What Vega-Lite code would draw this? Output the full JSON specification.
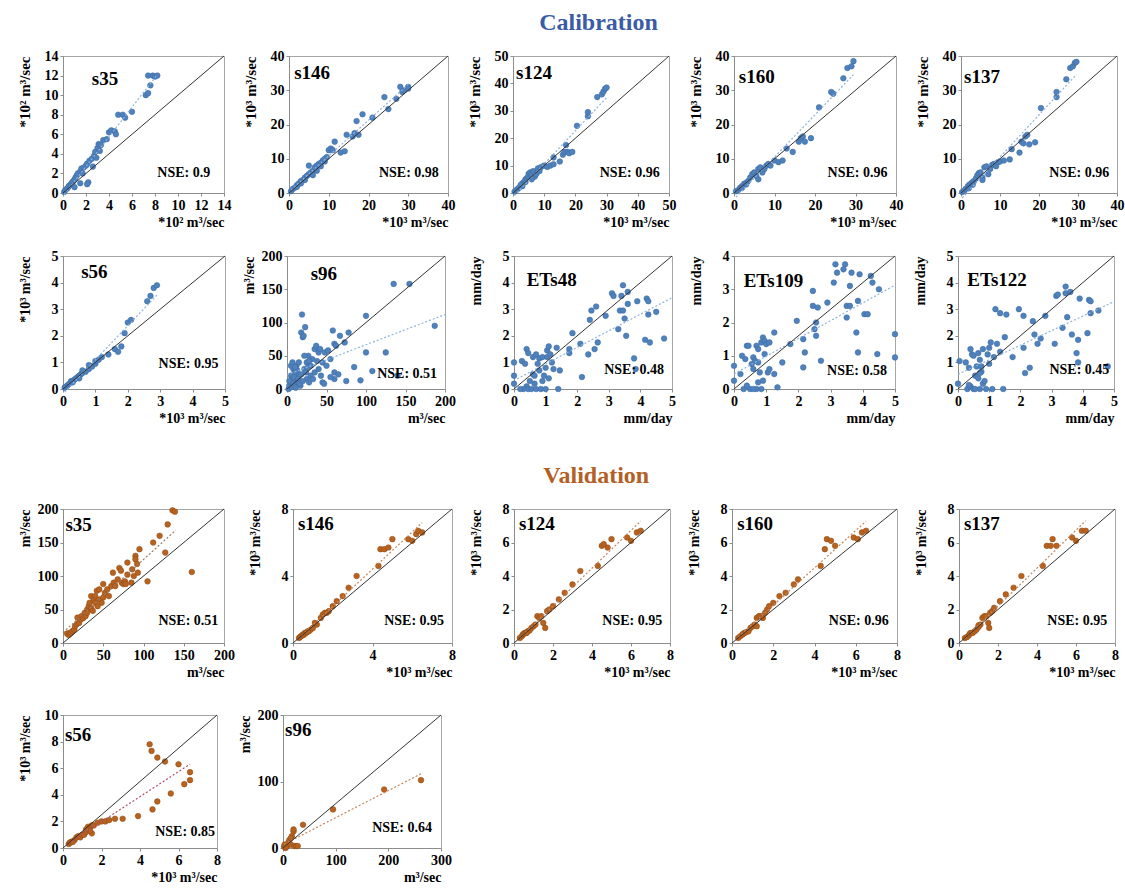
{
"$schema":"https://vega.github.io/schema/vega-lite/v6.json",
"padding":{"left":16,"top":10,"right":3,"bottom":3},
"background":"white",
"datasets":{
"cs35":[{"x":0.1,"y":0.1},{"x":0.2,"y":0.3},{"x":0.3,"y":0.4},{"x":0.4,"y":0.5},{"x":0.5,"y":0.7},{"x":0.6,"y":0.8},{"x":0.7,"y":0.9},{"x":0.8,"y":1.1},{"x":0.9,"y":1.2},{"x":1,"y":1.4},{"x":1.1,"y":1.6},{"x":1.2,"y":1.8},{"x":1.3,"y":2},{"x":1.5,"y":2.2},{"x":1.6,"y":2.5},{"x":1.8,"y":2.6},{"x":2,"y":2.8},{"x":2.1,"y":3},{"x":2.3,"y":3.3},{"x":2.5,"y":3.5},{"x":2.7,"y":3.8},{"x":2.8,"y":4.2},{"x":3,"y":4.6},{"x":3.1,"y":5},{"x":3.3,"y":4.9},{"x":3.5,"y":5.4},{"x":2.2,"y":1.1},{"x":2.1,"y":0.9},{"x":1.5,"y":1},{"x":1,"y":0.6},{"x":2.6,"y":2.7},{"x":4,"y":6.2},{"x":4.2,"y":6.4},{"x":4.5,"y":6.3},{"x":4.6,"y":6},{"x":4.8,"y":8},{"x":5.2,"y":8},{"x":5.4,"y":7.7},{"x":6,"y":8.3},{"x":7.2,"y":10},{"x":7.4,"y":10.2},{"x":7.6,"y":11},{"x":7.4,"y":12},{"x":7.8,"y":12},{"x":8,"y":11.9},{"x":8.2,"y":12},{"x":3.8,"y":5.5},{"x":3.2,"y":4.3},{"x":2.9,"y":3.6},{"x":1.7,"y":2}],
"cs146":[{"x":0.5,"y":0.5},{"x":1,"y":1.2},{"x":1.5,"y":1.6},{"x":2,"y":2.3},{"x":2.5,"y":2.8},{"x":3,"y":3.5},{"x":3.5,"y":3.8},{"x":4,"y":4.5},{"x":4.5,"y":5},{"x":5,"y":5.5},{"x":5.5,"y":6},{"x":6,"y":6.5},{"x":6,"y":5.2},{"x":6.5,"y":7.5},{"x":7,"y":8},{"x":7.5,"y":8.5},{"x":8,"y":8.8},{"x":8.5,"y":9.5},{"x":9,"y":9.2},{"x":9.5,"y":10.5},{"x":10,"y":12.5},{"x":10.5,"y":13},{"x":11,"y":12.5},{"x":11.5,"y":15},{"x":13,"y":11.8},{"x":14,"y":12.2},{"x":14.5,"y":17},{"x":16,"y":16.5},{"x":16.5,"y":17.5},{"x":17,"y":21},{"x":17.5,"y":17},{"x":18.5,"y":23},{"x":21,"y":22},{"x":24,"y":28},{"x":25,"y":24.5},{"x":27,"y":27.5},{"x":28,"y":31},{"x":28.5,"y":29.5},{"x":29,"y":30},{"x":30,"y":31},{"x":30,"y":30.5},{"x":5,"y":8},{"x":4,"y":3.8},{"x":7,"y":6.5},{"x":3,"y":2.8},{"x":2,"y":1.8},{"x":8,"y":7.8},{"x":9,"y":10}],
"cs124":[{"x":0.5,"y":0.5},{"x":1,"y":1},{"x":1.5,"y":1.5},{"x":2,"y":2},{"x":3,"y":3.5},{"x":3.5,"y":4},{"x":4,"y":5},{"x":4.5,"y":5.5},{"x":5,"y":6},{"x":5,"y":7},{"x":5.5,"y":7.5},{"x":6,"y":7},{"x":6.5,"y":8},{"x":7,"y":6},{"x":7.5,"y":7},{"x":8,"y":9},{"x":8.5,"y":8},{"x":9,"y":9.5},{"x":10,"y":10},{"x":11,"y":9.5},{"x":12,"y":10},{"x":13,"y":10.5},{"x":13,"y":13},{"x":15,"y":11.5},{"x":16,"y":14},{"x":16.5,"y":15},{"x":17,"y":17.5},{"x":17.5,"y":15},{"x":18,"y":14.5},{"x":19,"y":15},{"x":20.5,"y":24.5},{"x":24,"y":28},{"x":24,"y":29.5},{"x":27,"y":35},{"x":28.5,"y":36},{"x":29,"y":37},{"x":29.5,"y":38},{"x":30,"y":38.5},{"x":3,"y":2.5},{"x":2.5,"y":3},{"x":6,"y":5},{"x":4,"y":4}],
"cs160":[{"x":0.5,"y":0.5},{"x":1,"y":0.8},{"x":1.5,"y":1.5},{"x":2,"y":2},{"x":2.5,"y":2.7},{"x":3,"y":3},{"x":3.5,"y":3.5},{"x":4,"y":4.5},{"x":4.5,"y":5.5},{"x":5,"y":6},{"x":5.5,"y":5},{"x":6,"y":7},{"x":6.5,"y":7.5},{"x":7,"y":6},{"x":7.5,"y":7},{"x":8,"y":8},{"x":8.5,"y":8.5},{"x":9,"y":8},{"x":10,"y":9.5},{"x":11,"y":9},{"x":12,"y":9.5},{"x":13,"y":13},{"x":14.5,"y":12},{"x":16,"y":15},{"x":16.5,"y":16},{"x":17,"y":16.5},{"x":17.5,"y":15},{"x":19,"y":16},{"x":21,"y":25},{"x":24,"y":29.5},{"x":24.5,"y":29},{"x":27,"y":33.5},{"x":28,"y":36.5},{"x":29,"y":37},{"x":29.5,"y":38.5},{"x":3,"y":2.5},{"x":6,"y":4},{"x":2,"y":1.5}],
"cs137":[{"x":0.3,"y":0.3},{"x":0.8,"y":0.6},{"x":1.2,"y":1.2},{"x":1.8,"y":2},{"x":2.2,"y":2.5},{"x":2.8,"y":3},{"x":3.2,"y":3.4},{"x":3.8,"y":4.2},{"x":4.2,"y":5.2},{"x":4.6,"y":5.8},{"x":5,"y":6},{"x":5.5,"y":4.5},{"x":6,"y":7.5},{"x":6.5,"y":7.8},{"x":7,"y":5.5},{"x":7.5,"y":7},{"x":8,"y":8.2},{"x":8.5,"y":8.5},{"x":9,"y":7.8},{"x":9.5,"y":9},{"x":10,"y":9.2},{"x":11,"y":9.5},{"x":12.5,"y":9.8},{"x":13,"y":12.8},{"x":15,"y":11.8},{"x":15.5,"y":15},{"x":16,"y":14.5},{"x":16.5,"y":16.5},{"x":17,"y":17},{"x":17.5,"y":14.2},{"x":19,"y":14.8},{"x":20.5,"y":24.8},{"x":24.5,"y":28},{"x":24.5,"y":29.5},{"x":27,"y":33.2},{"x":28,"y":36.5},{"x":28.7,"y":37},{"x":29.2,"y":38},{"x":29.6,"y":38.3},{"x":3,"y":2.4},{"x":5.5,"y":3.8},{"x":2,"y":1.4}],
"cs56":[{"x":0.05,"y":0.05},{"x":0.1,"y":0.1},{"x":0.15,"y":0.15},{"x":0.2,"y":0.2},{"x":0.25,"y":0.3},{"x":0.3,"y":0.3},{"x":0.35,"y":0.35},{"x":0.4,"y":0.4},{"x":0.45,"y":0.45},{"x":0.5,"y":0.5},{"x":0.55,"y":0.55},{"x":0.6,"y":0.6},{"x":0.7,"y":0.65},{"x":0.8,"y":0.75},{"x":0.9,"y":0.85},{"x":1,"y":0.95},{"x":1.1,"y":1.1},{"x":1.2,"y":1.2},{"x":1.4,"y":1.3},{"x":1.6,"y":1.5},{"x":1.7,"y":1.4},{"x":1.8,"y":1.6},{"x":1.9,"y":2.1},{"x":2,"y":2.5},{"x":2.1,"y":2.6},{"x":2.6,"y":3.3},{"x":2.7,"y":3.5},{"x":2.8,"y":3.8},{"x":2.9,"y":3.9},{"x":0.5,"y":0.4},{"x":0.6,"y":0.7},{"x":0.8,"y":0.9},{"x":1,"y":1.05},{"x":0.3,"y":0.25}],
"cs96":[{"x":2,"y":0},{"x":3,"y":5},{"x":5,"y":10},{"x":5,"y":20},{"x":7,"y":15},{"x":8,"y":30},{"x":10,"y":5},{"x":10,"y":25},{"x":12,"y":35},{"x":12,"y":10},{"x":15,"y":20},{"x":15,"y":40},{"x":17,"y":5},{"x":18,"y":85},{"x":19,"y":112},{"x":20,"y":78},{"x":21,"y":80},{"x":23,"y":93},{"x":22,"y":30},{"x":25,"y":40},{"x":25,"y":15},{"x":27,"y":50},{"x":28,"y":10},{"x":30,"y":20},{"x":30,"y":35},{"x":32,"y":45},{"x":35,"y":25},{"x":35,"y":60},{"x":37,"y":65},{"x":40,"y":30},{"x":40,"y":55},{"x":42,"y":60},{"x":45,"y":10},{"x":45,"y":40},{"x":48,"y":55},{"x":50,"y":35},{"x":55,"y":45},{"x":58,"y":88},{"x":60,"y":15},{"x":60,"y":25},{"x":60,"y":68},{"x":62,"y":65},{"x":67,"y":80},{"x":73,"y":70},{"x":75,"y":12},{"x":78,"y":85},{"x":85,"y":33},{"x":93,"y":13},{"x":100,"y":110},{"x":100,"y":55},{"x":108,"y":27},{"x":125,"y":55},{"x":135,"y":158},{"x":140,"y":20},{"x":155,"y":158},{"x":187,"y":95},{"x":3,"y":12},{"x":6,"y":3},{"x":8,"y":8},{"x":9,"y":18},{"x":11,"y":2},{"x":13,"y":28},{"x":14,"y":15},{"x":16,"y":8},{"x":18,"y":22},{"x":20,"y":12},{"x":22,"y":50},{"x":24,"y":25},{"x":26,"y":32},{"x":28,"y":42},{"x":33,"y":15},{"x":38,"y":42},{"x":43,"y":20},{"x":47,"y":8},{"x":52,"y":58},{"x":55,"y":18},{"x":65,"y":22},{"x":5,"y":35},{"x":7,"y":40},{"x":10,"y":33}],
"e48":[{"x":0,"y":1},{"x":0,"y":0.5},{"x":0,"y":0.2},{"x":0.25,"y":1.05},{"x":0.35,"y":0.95},{"x":0.4,"y":1.5},{"x":0.45,"y":1.35},{"x":0.4,"y":0.1},{"x":0.3,"y":0},{"x":0.45,"y":0},{"x":0.55,"y":0},{"x":0.6,"y":0.55},{"x":0.6,"y":1.2},{"x":0.65,"y":0.5},{"x":0.7,"y":1.3},{"x":0.7,"y":0},{"x":0.75,"y":0.95},{"x":0.8,"y":0.7},{"x":0.8,"y":1.15},{"x":0.85,"y":0},{"x":0.9,"y":1.2},{"x":0.9,"y":0.3},{"x":0.95,"y":0.5},{"x":1,"y":0.8},{"x":1.05,"y":1.45},{"x":1.05,"y":1.2},{"x":1.1,"y":0.4},{"x":1.1,"y":1.6},{"x":1.15,"y":1.3},{"x":1.2,"y":1},{"x":1.25,"y":0.75},{"x":1.35,"y":1.55},{"x":1.4,"y":0},{"x":1.45,"y":0.7},{"x":1.75,"y":1.5},{"x":1.75,"y":1.35},{"x":1.85,"y":2.1},{"x":2.1,"y":1.7},{"x":2.15,"y":0.45},{"x":2.35,"y":1.3},{"x":2.4,"y":2.6},{"x":2.45,"y":2.95},{"x":2.55,"y":1.5},{"x":2.6,"y":3.1},{"x":2.65,"y":1.75},{"x":2.9,"y":2.75},{"x":3.1,"y":3.6},{"x":3.15,"y":3.5},{"x":3.3,"y":2.25},{"x":3.35,"y":2.95},{"x":3.4,"y":3.5},{"x":3.45,"y":3.9},{"x":3.45,"y":2.95},{"x":3.5,"y":2.65},{"x":3.55,"y":2},{"x":3.6,"y":3.2},{"x":3.6,"y":3.65},{"x":3.8,"y":1.15},{"x":3.85,"y":0.75},{"x":3.9,"y":3.3},{"x":4.15,"y":1.85},{"x":4.2,"y":3.4},{"x":4.25,"y":3.3},{"x":4.25,"y":2.8},{"x":4.3,"y":1.75},{"x":4.5,"y":2.9},{"x":4.75,"y":1.9},{"x":0.5,"y":0.3},{"x":0.65,"y":0.2},{"x":1,"y":0},{"x":0.2,"y":0}],
"e109":[{"x":0,"y":0.7},{"x":0,"y":0.25},{"x":0.25,"y":1},{"x":0.35,"y":0.9},{"x":0.4,"y":1.3},{"x":0.45,"y":1.3},{"x":0.3,"y":0},{"x":0.4,"y":0.1},{"x":0.5,"y":0},{"x":0.55,"y":0.75},{"x":0.6,"y":0.95},{"x":0.6,"y":0.6},{"x":0.65,"y":0.85},{"x":0.7,"y":1.3},{"x":0.7,"y":0},{"x":0.75,"y":0.8},{"x":0.75,"y":1.2},{"x":0.8,"y":0.5},{"x":0.85,"y":0},{"x":0.85,"y":1.4},{"x":0.9,"y":1.55},{"x":0.95,"y":1.45},{"x":0.95,"y":1.05},{"x":1,"y":1.35},{"x":1.05,"y":0.5},{"x":1.1,"y":1.4},{"x":1.1,"y":0.6},{"x":1.25,"y":1.7},{"x":1.25,"y":0.45},{"x":1.35,"y":0.05},{"x":1.5,"y":0.8},{"x":1.75,"y":1.35},{"x":1.95,"y":2.05},{"x":2.15,"y":0.65},{"x":2.15,"y":1.5},{"x":2.2,"y":1.1},{"x":2.45,"y":2.5},{"x":2.45,"y":2.95},{"x":2.5,"y":1.8},{"x":2.55,"y":2},{"x":2.55,"y":1.6},{"x":2.6,"y":2.45},{"x":2.7,"y":0.85},{"x":2.9,"y":2.6},{"x":3.1,"y":3.2},{"x":3.15,"y":3.75},{"x":3.2,"y":3.5},{"x":3.4,"y":3.6},{"x":3.45,"y":3.75},{"x":3.5,"y":2.5},{"x":3.5,"y":2.15},{"x":3.6,"y":3.1},{"x":3.6,"y":2.5},{"x":3.65,"y":3.5},{"x":3.8,"y":1.7},{"x":3.85,"y":1.1},{"x":3.85,"y":2.65},{"x":3.9,"y":3.45},{"x":4.05,"y":2.25},{"x":4.15,"y":2.25},{"x":4.25,"y":3.4},{"x":4.3,"y":3.2},{"x":4.45,"y":1.05},{"x":4.5,"y":3},{"x":5,"y":1.65},{"x":5,"y":0.95},{"x":0.6,"y":0},{"x":0.2,"y":0.45},{"x":0.9,"y":0.25},{"x":0.75,"y":0.2}],
"e122":[{"x":0,"y":0.2},{"x":0.05,"y":1.05},{"x":0.25,"y":1},{"x":0.3,"y":0},{"x":0.35,"y":0.8},{"x":0.4,"y":1.5},{"x":0.45,"y":1.3},{"x":0.4,"y":0.1},{"x":0.5,"y":0},{"x":0.5,"y":1.25},{"x":0.55,"y":0.5},{"x":0.6,"y":0.85},{"x":0.65,"y":1.35},{"x":0.65,"y":0.4},{"x":0.7,"y":0},{"x":0.7,"y":1.1},{"x":0.75,"y":0.65},{"x":0.75,"y":0.85},{"x":0.8,"y":0.2},{"x":0.8,"y":1.5},{"x":0.85,"y":0.3},{"x":0.9,"y":0},{"x":0.95,"y":1.3},{"x":1,"y":1.55},{"x":1,"y":0.95},{"x":1.05,"y":1.75},{"x":1.1,"y":0},{"x":1.15,"y":1.2},{"x":1.2,"y":3},{"x":1.25,"y":1.7},{"x":1.35,"y":2.85},{"x":1.35,"y":1.4},{"x":1.45,"y":0},{"x":1.5,"y":1.95},{"x":1.55,"y":2.8},{"x":1.75,"y":1.2},{"x":1.95,"y":3},{"x":2.1,"y":2.75},{"x":2.1,"y":1.55},{"x":2.15,"y":0.6},{"x":2.3,"y":0.8},{"x":2.4,"y":2.55},{"x":2.45,"y":2.05},{"x":2.55,"y":1.7},{"x":2.65,"y":1.9},{"x":2.8,"y":2.75},{"x":3.1,"y":1.7},{"x":3.15,"y":3.5},{"x":3.2,"y":3.55},{"x":3.35,"y":2.3},{"x":3.45,"y":3.85},{"x":3.45,"y":3.6},{"x":3.5,"y":2.7},{"x":3.6,"y":3.65},{"x":3.65,"y":2.05},{"x":3.8,"y":1.35},{"x":3.85,"y":1},{"x":3.85,"y":1.85},{"x":3.9,"y":3.4},{"x":4.15,"y":2.1},{"x":4.2,"y":3.35},{"x":4.25,"y":3.3},{"x":4.25,"y":2.85},{"x":4.5,"y":2.95},{"x":4.8,"y":0.85},{"x":0.55,"y":0},{"x":0.7,"y":0.6},{"x":0.35,"y":0.15}],
"vs35":[{"x":5,"y":14},{"x":7,"y":12},{"x":8,"y":15},{"x":10,"y":15},{"x":12,"y":18},{"x":14,"y":20},{"x":15,"y":25},{"x":17,"y":28},{"x":18,"y":38},{"x":20,"y":30},{"x":22,"y":35},{"x":23,"y":40},{"x":25,"y":37},{"x":27,"y":45},{"x":28,"y":40},{"x":30,"y":50},{"x":30,"y":45},{"x":32,"y":55},{"x":33,"y":60},{"x":35,"y":70},{"x":35,"y":52},{"x":37,"y":48},{"x":38,"y":65},{"x":40,"y":60},{"x":40,"y":70},{"x":42,"y":78},{"x":43,"y":55},{"x":45,"y":65},{"x":45,"y":80},{"x":48,"y":60},{"x":50,"y":68},{"x":50,"y":88},{"x":52,"y":75},{"x":55,"y":80},{"x":57,"y":70},{"x":60,"y":85},{"x":62,"y":105},{"x":63,"y":90},{"x":65,"y":85},{"x":68,"y":95},{"x":70,"y":112},{"x":72,"y":108},{"x":73,"y":90},{"x":75,"y":88},{"x":77,"y":92},{"x":78,"y":88},{"x":80,"y":120},{"x":80,"y":102},{"x":85,"y":90},{"x":86,"y":110},{"x":88,"y":100},{"x":90,"y":130},{"x":90,"y":125},{"x":92,"y":118},{"x":95,"y":140},{"x":93,"y":105},{"x":105,"y":92},{"x":112,"y":150},{"x":120,"y":160},{"x":127,"y":135},{"x":130,"y":177},{"x":136,"y":198},{"x":139,"y":196},{"x":160,"y":106}],
"vs146":[{"x":0.3,"y":0.3},{"x":0.35,"y":0.35},{"x":0.4,"y":0.4},{"x":0.45,"y":0.45},{"x":0.5,"y":0.5},{"x":0.55,"y":0.5},{"x":0.6,"y":0.6},{"x":0.65,"y":0.6},{"x":0.7,"y":0.65},{"x":0.8,"y":0.7},{"x":0.9,"y":0.8},{"x":1,"y":0.9},{"x":1.2,"y":1.1},{"x":1.4,"y":1.5},{"x":1.5,"y":1.7},{"x":1.6,"y":1.8},{"x":1.7,"y":1.8},{"x":1.8,"y":1.9},{"x":2,"y":2.2},{"x":2.2,"y":2.5},{"x":2.5,"y":2.8},{"x":2.8,"y":3.3},{"x":3.2,"y":4},{"x":4.3,"y":4.6},{"x":4.4,"y":5.6},{"x":4.6,"y":5.6},{"x":4.8,"y":5.7},{"x":5,"y":6.2},{"x":5.8,"y":6.2},{"x":6,"y":6.1},{"x":6.2,"y":6.5},{"x":6.3,"y":6.7},{"x":6.5,"y":6.6},{"x":1.1,"y":1.2},{"x":0.75,"y":0.7}],
"vs124":[{"x":0.3,"y":0.3},{"x":0.4,"y":0.4},{"x":0.45,"y":0.5},{"x":0.5,"y":0.55},{"x":0.55,"y":0.6},{"x":0.6,"y":0.6},{"x":0.7,"y":0.7},{"x":0.8,"y":0.75},{"x":0.9,"y":0.9},{"x":1,"y":1},{"x":1.2,"y":1.6},{"x":1.3,"y":1.5},{"x":1.4,"y":1.6},{"x":1.5,"y":1.2},{"x":1.6,"y":0.9},{"x":1.7,"y":1.9},{"x":1.8,"y":2},{"x":2,"y":2.2},{"x":2.3,"y":2.6},{"x":2.6,"y":3},{"x":3,"y":3.5},{"x":3.4,"y":4.3},{"x":4.3,"y":4.6},{"x":4.5,"y":5.8},{"x":4.6,"y":5.9},{"x":4.8,"y":5.7},{"x":5,"y":6.2},{"x":5.8,"y":6.3},{"x":6,"y":6.1},{"x":6.3,"y":6.6},{"x":6.5,"y":6.7},{"x":1.1,"y":1.1},{"x":0.65,"y":0.6}],
"vs160":[{"x":0.3,"y":0.3},{"x":0.4,"y":0.4},{"x":0.5,"y":0.5},{"x":0.55,"y":0.55},{"x":0.6,"y":0.6},{"x":0.7,"y":0.65},{"x":0.8,"y":0.7},{"x":0.9,"y":0.9},{"x":1,"y":1},{"x":1.1,"y":1.1},{"x":1.2,"y":1.5},{"x":1.3,"y":1.6},{"x":1.4,"y":1.6},{"x":1.5,"y":1.5},{"x":1.6,"y":1.8},{"x":1.7,"y":2},{"x":1.8,"y":2.2},{"x":2,"y":2.4},{"x":2.3,"y":2.8},{"x":2.6,"y":3},{"x":3,"y":3.5},{"x":3.2,"y":3.8},{"x":4.3,"y":4.6},{"x":4.5,"y":5.6},{"x":4.6,"y":6.2},{"x":4.8,"y":6.1},{"x":5,"y":5.8},{"x":5.9,"y":6.3},{"x":6.1,"y":6.2},{"x":6.3,"y":6.6},{"x":6.5,"y":6.7},{"x":1.2,"y":1.0}],
"vs137":[{"x":0.3,"y":0.3},{"x":0.4,"y":0.35},{"x":0.5,"y":0.45},{"x":0.55,"y":0.55},{"x":0.6,"y":0.6},{"x":0.7,"y":0.6},{"x":0.8,"y":0.7},{"x":0.9,"y":0.8},{"x":1,"y":0.95},{"x":1.1,"y":1.1},{"x":1.2,"y":1.5},{"x":1.3,"y":1.6},{"x":1.4,"y":1.6},{"x":1.5,"y":1.2},{"x":1.55,"y":0.9},{"x":1.6,"y":1.8},{"x":1.7,"y":1.9},{"x":1.8,"y":2.1},{"x":2.1,"y":2.5},{"x":2.4,"y":2.9},{"x":2.8,"y":3.3},{"x":3.2,"y":4},{"x":4.3,"y":4.6},{"x":4.5,"y":5.8},{"x":4.7,"y":5.8},{"x":4.8,"y":6.2},{"x":5,"y":5.8},{"x":5.8,"y":6.3},{"x":6,"y":6.1},{"x":6.3,"y":6.7},{"x":6.5,"y":6.7},{"x":1.0,"y":1.05}],
"vs56":[{"x":0.3,"y":0.3},{"x":0.35,"y":0.4},{"x":0.4,"y":0.45},{"x":0.5,"y":0.5},{"x":0.6,"y":0.6},{"x":0.7,"y":0.8},{"x":0.8,"y":0.9},{"x":0.9,"y":0.8},{"x":1,"y":1},{"x":1.1,"y":1},{"x":1.2,"y":1.2},{"x":1.3,"y":1.6},{"x":1.4,"y":1.5},{"x":1.5,"y":1.1},{"x":1.5,"y":1.7},{"x":1.6,"y":1.7},{"x":1.8,"y":1.9},{"x":2,"y":2},{"x":2.2,"y":2},{"x":2.4,"y":2.1},{"x":2.7,"y":2.2},{"x":3.1,"y":2.2},{"x":3.9,"y":2.4},{"x":4.5,"y":7.8},{"x":4.6,"y":7.3},{"x":4.9,"y":6.8},{"x":5.3,"y":6.5},{"x":4.65,"y":2.9},{"x":4.9,"y":3.5},{"x":5.6,"y":4.1},{"x":6,"y":6.3},{"x":6.3,"y":4.8},{"x":6.6,"y":5.7},{"x":6.6,"y":5.1},{"x":0.5,"y":0.45},{"x":1.4,"y":1.3},{"x":1.2,"y":1.4}],
"vs96":[{"x":2,"y":2},{"x":3,"y":5},{"x":5,"y":0},{"x":8,"y":3},{"x":10,"y":8},{"x":12,"y":12},{"x":15,"y":5},{"x":17,"y":18},{"x":20,"y":25},{"x":20,"y":28},{"x":22,"y":3},{"x":25,"y":3},{"x":28,"y":3},{"x":38,"y":35},{"x":95,"y":58},{"x":192,"y":88},{"x":262,"y":102},{"x":5,"y":2},{"x":15,"y":15}]
},
"config":{
"font":"Liberation Serif",
"view":{"stroke":"#a6a6a6","strokeWidth":1},
"axis":{"grid":false,"labelFont":"Liberation Serif","labelFontSize":14,"labelFontWeight":"bold","labelColor":"#000","titleFont":"Liberation Serif","titleFontSize":14,"titleFontWeight":"bold","titleColor":"#000","domainColor":"#8c8c8c","tickColor":"#8c8c8c","tickSize":3,"labelPadding":2,"labelFlush":false,"labelOverlap":false,"tickCount":20,"format":"d","titlePadding":3},
"axisX":{"titleAnchor":"end"},
"axisY":{"titleAnchor":"end","minExtent":28,"maxExtent":28},
"text":{"font":"Liberation Serif","fontWeight":"bold","color":"#000"}
},
"spacing":37,
"vconcat":[
{"title":{"text":"Calibration","color":"#3a5ca6","fontSize":24,"font":"Liberation Serif","fontWeight":"bold","anchor":"middle","offset":14,"dx":28},
 "spacing":18,
 "vconcat":[
 {"spacing":10,"hconcat":[
  {"width":161,"height":137,"layer":[
   {"data":{"name":"cs35"},"mark":{"type":"circle","size":32,"opacity":1,"fill":"#4f81bd","stroke":"#3b6aa0","strokeWidth":0.5},"encoding":{"x":{"field":"x","type":"quantitative","scale":{"domain":[0,14],"nice":false},"axis":{"values":[0,2,4,6,8,10,12,14],"labelOverlap":false,"tickCount":20,"format":"d","title":"*10² m³/sec"}},"y":{"field":"y","type":"quantitative","scale":{"domain":[0,14],"nice":false},"axis":{"values":[0,2,4,6,8,10,12,14],"labelOverlap":false,"tickCount":20,"format":"d","titleFontSize":15,"title":"*10² m³/sec"}}}},
   {"data":{"name":"cs35"},"transform":[{"regression":"y","on":"x"}],"mark":{"type":"line","stroke":"#8db3e2","strokeDash":[2,2],"strokeWidth":1.2},"encoding":{"x":{"field":"x","type":"quantitative"},"y":{"field":"y","type":"quantitative"}}},
   {"data":{"values":[{}]},"mark":{"type":"rule","stroke":"#333","strokeWidth":1},"encoding":{"x":{"datum":0},"y":{"datum":0},"x2":{"datum":14},"y2":{"datum":14}}},
   {"data":{"values":[{}]},"mark":{"type":"text","text":"s35","align":"left","fontSize":19},"encoding":{"x":{"datum":2.5},"y":{"datum":11.6}}},
   {"data":{"values":[{}]},"mark":{"type":"text","text":"NSE: 0.9","align":"right","fontSize":14},"encoding":{"x":{"datum":12.8},"y":{"datum":2}}}
  ]},
  {"width":159,"height":137,"layer":[
   {"data":{"name":"cs146"},"mark":{"type":"circle","size":32,"opacity":1,"fill":"#4f81bd","stroke":"#3b6aa0","strokeWidth":0.5},"encoding":{"x":{"field":"x","type":"quantitative","scale":{"domain":[0,40],"nice":false},"axis":{"values":[0,10,20,30,40],"labelOverlap":false,"tickCount":20,"format":"d","title":"*10³ m³/sec"}},"y":{"field":"y","type":"quantitative","scale":{"domain":[0,40],"nice":false},"axis":{"values":[0,10,20,30,40],"labelOverlap":false,"tickCount":20,"format":"d","titleFontSize":15,"title":"*10³ m³/sec"}}}},
   {"data":{"name":"cs146"},"transform":[{"regression":"y","on":"x"}],"mark":{"type":"line","stroke":"#8db3e2","strokeDash":[2,2],"strokeWidth":1.2},"encoding":{"x":{"field":"x","type":"quantitative"},"y":{"field":"y","type":"quantitative"}}},
   {"data":{"values":[{}]},"mark":{"type":"rule","stroke":"#333","strokeWidth":1},"encoding":{"x":{"datum":0},"y":{"datum":0},"x2":{"datum":40},"y2":{"datum":40}}},
   {"data":{"values":[{}]},"mark":{"type":"text","text":"s146","align":"left","fontSize":19},"encoding":{"x":{"datum":1.3},"y":{"datum":35}}},
   {"data":{"values":[{}]},"mark":{"type":"text","text":"NSE: 0.98","align":"right","fontSize":14},"encoding":{"x":{"datum":37.7},"y":{"datum":5.8}}}
  ]},
  {"width":156,"height":137,"layer":[
   {"data":{"name":"cs124"},"mark":{"type":"circle","size":32,"opacity":1,"fill":"#4f81bd","stroke":"#3b6aa0","strokeWidth":0.5},"encoding":{"x":{"field":"x","type":"quantitative","scale":{"domain":[0,50],"nice":false},"axis":{"values":[0,10,20,30,40,50],"labelOverlap":false,"tickCount":20,"format":"d","title":"*10³ m³/sec"}},"y":{"field":"y","type":"quantitative","scale":{"domain":[0,50],"nice":false},"axis":{"values":[0,10,20,30,40,50],"labelOverlap":false,"tickCount":20,"format":"d","titleFontSize":15,"title":"*10³ m³/sec"}}}},
   {"data":{"name":"cs124"},"transform":[{"regression":"y","on":"x"}],"mark":{"type":"line","stroke":"#8db3e2","strokeDash":[2,2],"strokeWidth":1.2},"encoding":{"x":{"field":"x","type":"quantitative"},"y":{"field":"y","type":"quantitative"}}},
   {"data":{"values":[{}]},"mark":{"type":"rule","stroke":"#333","strokeWidth":1},"encoding":{"x":{"datum":0},"y":{"datum":0},"x2":{"datum":50},"y2":{"datum":50}}},
   {"data":{"values":[{}]},"mark":{"type":"text","text":"s124","align":"left","fontSize":19},"encoding":{"x":{"datum":1},"y":{"datum":43.8}}},
   {"data":{"values":[{}]},"mark":{"type":"text","text":"NSE: 0.96","align":"right","fontSize":14},"encoding":{"x":{"datum":47},"y":{"datum":7.3}}}
  ]},
  {"width":162,"height":137,"layer":[
   {"data":{"name":"cs160"},"mark":{"type":"circle","size":32,"opacity":1,"fill":"#4f81bd","stroke":"#3b6aa0","strokeWidth":0.5},"encoding":{"x":{"field":"x","type":"quantitative","scale":{"domain":[0,40],"nice":false},"axis":{"values":[0,10,20,30,40],"labelOverlap":false,"tickCount":20,"format":"d","title":"*10³ m³/sec"}},"y":{"field":"y","type":"quantitative","scale":{"domain":[0,40],"nice":false},"axis":{"values":[0,10,20,30,40],"labelOverlap":false,"tickCount":20,"format":"d","titleFontSize":15,"title":"*10³ m³/sec"}}}},
   {"data":{"name":"cs160"},"transform":[{"regression":"y","on":"x"}],"mark":{"type":"line","stroke":"#8db3e2","strokeDash":[2,2],"strokeWidth":1.2},"encoding":{"x":{"field":"x","type":"quantitative"},"y":{"field":"y","type":"quantitative"}}},
   {"data":{"values":[{}]},"mark":{"type":"rule","stroke":"#333","strokeWidth":1},"encoding":{"x":{"datum":0},"y":{"datum":0},"x2":{"datum":40},"y2":{"datum":40}}},
   {"data":{"values":[{}]},"mark":{"type":"text","text":"s160","align":"left","fontSize":19},"encoding":{"x":{"datum":1.2},"y":{"datum":34}}},
   {"data":{"values":[{}]},"mark":{"type":"text","text":"NSE: 0.96","align":"right","fontSize":14},"encoding":{"x":{"datum":37.9},"y":{"datum":5.8}}}
  ]},
  {"width":156,"height":137,"layer":[
   {"data":{"name":"cs137"},"mark":{"type":"circle","size":32,"opacity":1,"fill":"#4f81bd","stroke":"#3b6aa0","strokeWidth":0.5},"encoding":{"x":{"field":"x","type":"quantitative","scale":{"domain":[0,40],"nice":false},"axis":{"values":[0,10,20,30,40],"labelOverlap":false,"tickCount":20,"format":"d","title":"*10³ m³/sec"}},"y":{"field":"y","type":"quantitative","scale":{"domain":[0,40],"nice":false},"axis":{"values":[0,10,20,30,40],"labelOverlap":false,"tickCount":20,"format":"d","titleFontSize":15,"title":"*10³ m³/sec"}}}},
   {"data":{"name":"cs137"},"transform":[{"regression":"y","on":"x"}],"mark":{"type":"line","stroke":"#8db3e2","strokeDash":[2,2],"strokeWidth":1.2},"encoding":{"x":{"field":"x","type":"quantitative"},"y":{"field":"y","type":"quantitative"}}},
   {"data":{"values":[{}]},"mark":{"type":"rule","stroke":"#333","strokeWidth":1},"encoding":{"x":{"datum":0},"y":{"datum":0},"x2":{"datum":40},"y2":{"datum":40}}},
   {"data":{"values":[{}]},"mark":{"type":"text","text":"s137","align":"left","fontSize":19},"encoding":{"x":{"datum":0.8},"y":{"datum":34}}},
   {"data":{"values":[{}]},"mark":{"type":"text","text":"NSE: 0.96","align":"right","fontSize":14},"encoding":{"x":{"datum":38},"y":{"datum":5.8}}}
  ]}
 ]},
 {"spacing":12,"hconcat":[
  {"width":162,"height":133,"layer":[
   {"data":{"name":"cs56"},"mark":{"type":"circle","size":32,"opacity":1,"fill":"#4f81bd","stroke":"#3b6aa0","strokeWidth":0.5},"encoding":{"x":{"field":"x","type":"quantitative","scale":{"domain":[0,5],"nice":false},"axis":{"values":[0,1,2,3,4,5],"labelOverlap":false,"tickCount":20,"format":"d","title":"*10³ m³/sec"}},"y":{"field":"y","type":"quantitative","scale":{"domain":[0,5],"nice":false},"axis":{"values":[0,1,2,3,4,5],"labelOverlap":false,"tickCount":20,"format":"d","title":"*10³ m³/sec"}}}},
   {"data":{"name":"cs56"},"transform":[{"regression":"y","on":"x"}],"mark":{"type":"line","stroke":"#8db3e2","strokeDash":[2,2],"strokeWidth":1.2},"encoding":{"x":{"field":"x","type":"quantitative"},"y":{"field":"y","type":"quantitative"}}},
   {"data":{"values":[{}]},"mark":{"type":"rule","stroke":"#333","strokeWidth":1},"encoding":{"x":{"datum":0},"y":{"datum":0},"x2":{"datum":5},"y2":{"datum":5}}},
   {"data":{"values":[{}]},"mark":{"type":"text","text":"s56","align":"left","fontSize":19},"encoding":{"x":{"datum":0.56},"y":{"datum":4.4}}},
   {"data":{"values":[{}]},"mark":{"type":"text","text":"NSE: 0.95","align":"right","fontSize":14},"encoding":{"x":{"datum":4.8},"y":{"datum":0.94}}}
  ]},
  {"width":158,"height":133,"layer":[
   {"data":{"name":"cs96"},"mark":{"type":"circle","size":32,"opacity":1,"fill":"#4f81bd","stroke":"#3b6aa0","strokeWidth":0.5},"encoding":{"x":{"field":"x","type":"quantitative","scale":{"domain":[0,200],"nice":false},"axis":{"values":[0,50,100,150,200],"labelOverlap":false,"tickCount":20,"format":"d","title":"m³/sec"}},"y":{"field":"y","type":"quantitative","scale":{"domain":[0,200],"nice":false},"axis":{"values":[0,50,100,150,200],"labelOverlap":false,"tickCount":20,"format":"d","title":"m³/sec"}}}},
   {"data":{"name":"cs96"},"transform":[{"regression":"y","on":"x","extent":[0,200]}],"mark":{"type":"line","stroke":"#8db3e2","strokeDash":[2,2],"strokeWidth":1.2},"encoding":{"x":{"field":"x","type":"quantitative"},"y":{"field":"y","type":"quantitative"}}},
   {"data":{"values":[{}]},"mark":{"type":"rule","stroke":"#333","strokeWidth":1},"encoding":{"x":{"datum":0},"y":{"datum":0},"x2":{"datum":200},"y2":{"datum":200}}},
   {"data":{"values":[{}]},"mark":{"type":"text","text":"s96","align":"left","fontSize":19},"encoding":{"x":{"datum":30},"y":{"datum":173}}},
   {"data":{"values":[{}]},"mark":{"type":"text","text":"NSE: 0.51","align":"right","fontSize":14},"encoding":{"x":{"datum":190},"y":{"datum":22}}}
  ]},
  {"width":158,"height":133,"layer":[
   {"data":{"name":"e48"},"mark":{"type":"circle","size":32,"opacity":1,"fill":"#4f81bd","stroke":"#3b6aa0","strokeWidth":0.5},"encoding":{"x":{"field":"x","type":"quantitative","scale":{"domain":[0,5],"nice":false},"axis":{"values":[0,1,2,3,4,5],"labelOverlap":false,"tickCount":20,"format":"d","title":"mm/day"}},"y":{"field":"y","type":"quantitative","scale":{"domain":[0,5],"nice":false},"axis":{"values":[0,1,2,3,4,5],"labelOverlap":false,"tickCount":20,"format":"d","title":"mm/day"}}}},
   {"data":{"name":"e48"},"transform":[{"regression":"y","on":"x","extent":[0.1,5]}],"mark":{"type":"line","stroke":"#8db3e2","strokeDash":[2,2],"strokeWidth":1.2},"encoding":{"x":{"field":"x","type":"quantitative"},"y":{"field":"y","type":"quantitative"}}},
   {"data":{"values":[{}]},"mark":{"type":"rule","stroke":"#333","strokeWidth":1},"encoding":{"x":{"datum":0},"y":{"datum":0},"x2":{"datum":5},"y2":{"datum":5}}},
   {"data":{"values":[{}]},"mark":{"type":"text","text":"ETs48","align":"left","fontSize":19},"encoding":{"x":{"datum":0.4},"y":{"datum":4.1}}},
   {"data":{"values":[{}]},"mark":{"type":"text","text":"NSE: 0.48","align":"right","fontSize":14},"encoding":{"x":{"datum":4.75},"y":{"datum":0.7}}}
  ]},
  {"width":161,"height":133,"layer":[
   {"data":{"name":"e109"},"mark":{"type":"circle","size":32,"opacity":1,"fill":"#4f81bd","stroke":"#3b6aa0","strokeWidth":0.5},"encoding":{"x":{"field":"x","type":"quantitative","scale":{"domain":[0,5],"nice":false},"axis":{"values":[0,1,2,3,4,5],"labelOverlap":false,"tickCount":20,"format":"d","title":"mm/day"}},"y":{"field":"y","type":"quantitative","scale":{"domain":[0,4],"nice":false},"axis":{"values":[0,1,2,3,4],"labelOverlap":false,"tickCount":20,"format":"d","title":"mm/day"}}}},
   {"data":{"name":"e109"},"transform":[{"regression":"y","on":"x","extent":[0,5]}],"mark":{"type":"line","stroke":"#8db3e2","strokeDash":[2,2],"strokeWidth":1.2},"encoding":{"x":{"field":"x","type":"quantitative"},"y":{"field":"y","type":"quantitative"}}},
   {"data":{"values":[{}]},"mark":{"type":"rule","stroke":"#333","strokeWidth":1},"encoding":{"x":{"datum":0},"y":{"datum":0},"x2":{"datum":5},"y2":{"datum":4}}},
   {"data":{"values":[{}]},"mark":{"type":"text","text":"ETs109","align":"left","fontSize":19},"encoding":{"x":{"datum":0.3},"y":{"datum":3.25}}},
   {"data":{"values":[{}]},"mark":{"type":"text","text":"NSE: 0.58","align":"right","fontSize":14},"encoding":{"x":{"datum":4.75},"y":{"datum":0.55}}}
  ]},
  {"width":156,"height":133,"layer":[
   {"data":{"name":"e122"},"mark":{"type":"circle","size":32,"opacity":1,"fill":"#4f81bd","stroke":"#3b6aa0","strokeWidth":0.5},"encoding":{"x":{"field":"x","type":"quantitative","scale":{"domain":[0,5],"nice":false},"axis":{"values":[0,1,2,3,4,5],"labelOverlap":false,"tickCount":20,"format":"d","title":"mm/day"}},"y":{"field":"y","type":"quantitative","scale":{"domain":[0,5],"nice":false},"axis":{"values":[0,1,2,3,4,5],"labelOverlap":false,"tickCount":20,"format":"d","title":"mm/day"}}}},
   {"data":{"name":"e122"},"transform":[{"regression":"y","on":"x","extent":[0,5]}],"mark":{"type":"line","stroke":"#8db3e2","strokeDash":[2,2],"strokeWidth":1.2},"encoding":{"x":{"field":"x","type":"quantitative"},"y":{"field":"y","type":"quantitative"}}},
   {"data":{"values":[{}]},"mark":{"type":"rule","stroke":"#333","strokeWidth":1},"encoding":{"x":{"datum":0},"y":{"datum":0},"x2":{"datum":5},"y2":{"datum":5}}},
   {"data":{"values":[{}]},"mark":{"type":"text","text":"ETs122","align":"left","fontSize":19},"encoding":{"x":{"datum":0.3},"y":{"datum":4.1}}},
   {"data":{"values":[{}]},"mark":{"type":"text","text":"NSE: 0.45","align":"right","fontSize":14},"encoding":{"x":{"datum":4.85},"y":{"datum":0.7}}}
  ]}
 ]}
 ]},
{"title":{"text":"Validation","color":"#b45f24","fontSize":24,"font":"Liberation Serif","fontWeight":"bold","anchor":"middle","offset":14,"dx":28},
 "spacing":27,
 "vconcat":[
 {"spacing":12,"hconcat":[
  {"width":161,"height":134,"layer":[
   {"data":{"name":"vs35"},"mark":{"type":"circle","size":32,"opacity":1,"fill":"#b8621f","stroke":"#8f4a15","strokeWidth":0.5},"encoding":{"x":{"field":"x","type":"quantitative","scale":{"domain":[0,200],"nice":false},"axis":{"values":[0,50,100,150,200],"labelOverlap":false,"tickCount":20,"format":"d","title":"m³/sec"}},"y":{"field":"y","type":"quantitative","scale":{"domain":[0,200],"nice":false},"axis":{"values":[0,50,100,150,200],"labelOverlap":false,"tickCount":20,"format":"d","title":"m³/sec"}}}},
   {"data":{"name":"vs35"},"transform":[{"regression":"y","on":"x","extent":[0,140]}],"mark":{"type":"line","stroke":"#9a7a66","strokeDash":[2,2],"strokeWidth":1.2},"encoding":{"x":{"field":"x","type":"quantitative"},"y":{"field":"y","type":"quantitative"}}},
   {"data":{"values":[{}]},"mark":{"type":"rule","stroke":"#333","strokeWidth":1},"encoding":{"x":{"datum":0},"y":{"datum":0},"x2":{"datum":200},"y2":{"datum":200}}},
   {"data":{"values":[{}]},"mark":{"type":"text","text":"s35","align":"left","fontSize":19},"encoding":{"x":{"datum":3},"y":{"datum":176}}},
   {"data":{"values":[{}]},"mark":{"type":"text","text":"NSE: 0.51","align":"right","fontSize":14},"encoding":{"x":{"datum":193},"y":{"datum":33}}}
  ]},
  {"width":159,"height":134,"layer":[
   {"data":{"name":"vs146"},"mark":{"type":"circle","size":32,"opacity":1,"fill":"#b8621f","stroke":"#8f4a15","strokeWidth":0.5},"encoding":{"x":{"field":"x","type":"quantitative","scale":{"domain":[0,8],"nice":false},"axis":{"values":[0,4,8],"labelOverlap":false,"tickCount":20,"format":"d","title":"*10³ m³/sec"}},"y":{"field":"y","type":"quantitative","scale":{"domain":[0,8],"nice":false},"axis":{"values":[0,4,8],"labelOverlap":false,"tickCount":20,"format":"d","title":"*10³ m³/sec"}}}},
   {"data":{"name":"vs146"},"transform":[{"regression":"y","on":"x"}],"mark":{"type":"line","stroke":"#c9855a","strokeDash":[2,2],"strokeWidth":1.2},"encoding":{"x":{"field":"x","type":"quantitative"},"y":{"field":"y","type":"quantitative"}}},
   {"data":{"values":[{}]},"mark":{"type":"rule","stroke":"#333","strokeWidth":1},"encoding":{"x":{"datum":0},"y":{"datum":0},"x2":{"datum":8},"y2":{"datum":8}}},
   {"data":{"values":[{}]},"mark":{"type":"text","text":"s146","align":"left","fontSize":19},"encoding":{"x":{"datum":0.25},"y":{"datum":7.1}}},
   {"data":{"values":[{}]},"mark":{"type":"text","text":"NSE: 0.95","align":"right","fontSize":14},"encoding":{"x":{"datum":7.6},"y":{"datum":1.3}}}
  ]},
  {"width":156,"height":134,"layer":[
   {"data":{"name":"vs124"},"mark":{"type":"circle","size":32,"opacity":1,"fill":"#b8621f","stroke":"#8f4a15","strokeWidth":0.5},"encoding":{"x":{"field":"x","type":"quantitative","scale":{"domain":[0,8],"nice":false},"axis":{"values":[0,2,4,6,8],"labelOverlap":false,"tickCount":20,"format":"d","title":"*10³ m³/sec"}},"y":{"field":"y","type":"quantitative","scale":{"domain":[0,8],"nice":false},"axis":{"values":[0,2,4,6,8],"labelOverlap":false,"tickCount":20,"format":"d","title":"*10³ m³/sec"}}}},
   {"data":{"name":"vs124"},"transform":[{"regression":"y","on":"x"}],"mark":{"type":"line","stroke":"#c9855a","strokeDash":[2,2],"strokeWidth":1.2},"encoding":{"x":{"field":"x","type":"quantitative"},"y":{"field":"y","type":"quantitative"}}},
   {"data":{"values":[{}]},"mark":{"type":"rule","stroke":"#333","strokeWidth":1},"encoding":{"x":{"datum":0},"y":{"datum":0},"x2":{"datum":8},"y2":{"datum":8}}},
   {"data":{"values":[{}]},"mark":{"type":"text","text":"s124","align":"left","fontSize":19},"encoding":{"x":{"datum":0.25},"y":{"datum":7.1}}},
   {"data":{"values":[{}]},"mark":{"type":"text","text":"NSE: 0.95","align":"right","fontSize":14},"encoding":{"x":{"datum":7.6},"y":{"datum":1.3}}}
  ]},
  {"width":165,"height":134,"layer":[
   {"data":{"name":"vs160"},"mark":{"type":"circle","size":32,"opacity":1,"fill":"#b8621f","stroke":"#8f4a15","strokeWidth":0.5},"encoding":{"x":{"field":"x","type":"quantitative","scale":{"domain":[0,8],"nice":false},"axis":{"values":[0,2,4,6,8],"labelOverlap":false,"tickCount":20,"format":"d","title":"*10³ m³/sec"}},"y":{"field":"y","type":"quantitative","scale":{"domain":[0,8],"nice":false},"axis":{"values":[0,2,4,6,8],"labelOverlap":false,"tickCount":20,"format":"d","title":"*10³ m³/sec"}}}},
   {"data":{"name":"vs160"},"transform":[{"regression":"y","on":"x"}],"mark":{"type":"line","stroke":"#c9855a","strokeDash":[2,2],"strokeWidth":1.2},"encoding":{"x":{"field":"x","type":"quantitative"},"y":{"field":"y","type":"quantitative"}}},
   {"data":{"values":[{}]},"mark":{"type":"rule","stroke":"#333","strokeWidth":1},"encoding":{"x":{"datum":0},"y":{"datum":0},"x2":{"datum":8},"y2":{"datum":8}}},
   {"data":{"values":[{}]},"mark":{"type":"text","text":"s160","align":"left","fontSize":19},"encoding":{"x":{"datum":0.25},"y":{"datum":7.1}}},
   {"data":{"values":[{}]},"mark":{"type":"text","text":"NSE: 0.96","align":"right","fontSize":14},"encoding":{"x":{"datum":7.6},"y":{"datum":1.3}}}
  ]},
  {"width":156,"height":134,"layer":[
   {"data":{"name":"vs137"},"mark":{"type":"circle","size":32,"opacity":1,"fill":"#b8621f","stroke":"#8f4a15","strokeWidth":0.5},"encoding":{"x":{"field":"x","type":"quantitative","scale":{"domain":[0,8],"nice":false},"axis":{"values":[0,2,4,6,8],"labelOverlap":false,"tickCount":20,"format":"d","title":"*10³ m³/sec"}},"y":{"field":"y","type":"quantitative","scale":{"domain":[0,8],"nice":false},"axis":{"values":[0,2,4,6,8],"labelOverlap":false,"tickCount":20,"format":"d","title":"*10³ m³/sec"}}}},
   {"data":{"name":"vs137"},"transform":[{"regression":"y","on":"x"}],"mark":{"type":"line","stroke":"#c9855a","strokeDash":[2,2],"strokeWidth":1.2},"encoding":{"x":{"field":"x","type":"quantitative"},"y":{"field":"y","type":"quantitative"}}},
   {"data":{"values":[{}]},"mark":{"type":"rule","stroke":"#333","strokeWidth":1},"encoding":{"x":{"datum":0},"y":{"datum":0},"x2":{"datum":8},"y2":{"datum":8}}},
   {"data":{"values":[{}]},"mark":{"type":"text","text":"s137","align":"left","fontSize":19},"encoding":{"x":{"datum":0.25},"y":{"datum":7.1}}},
   {"data":{"values":[{}]},"mark":{"type":"text","text":"NSE: 0.95","align":"right","fontSize":14},"encoding":{"x":{"datum":7.6},"y":{"datum":1.3}}}
  ]}
 ]},
 {"spacing":16,"hconcat":[
  {"width":154,"height":133,"layer":[
   {"data":{"name":"vs56"},"mark":{"type":"circle","size":32,"opacity":1,"fill":"#b8621f","stroke":"#8f4a15","strokeWidth":0.5},"encoding":{"x":{"field":"x","type":"quantitative","scale":{"domain":[0,8],"nice":false},"axis":{"values":[0,2,4,6,8],"labelOverlap":false,"tickCount":20,"format":"d","title":"*10³ m³/sec"}},"y":{"field":"y","type":"quantitative","scale":{"domain":[0,10],"nice":false},"axis":{"values":[0,2,4,6,8,10],"labelOverlap":false,"tickCount":20,"format":"d","title":"*10³ m³/sec"}}}},
   {"data":{"name":"vs56"},"transform":[{"regression":"y","on":"x"}],"mark":{"type":"line","stroke":"#b0506a","strokeDash":[2,2],"strokeWidth":1.2},"encoding":{"x":{"field":"x","type":"quantitative"},"y":{"field":"y","type":"quantitative"}}},
   {"data":{"values":[{}]},"mark":{"type":"rule","stroke":"#333","strokeWidth":1},"encoding":{"x":{"datum":0},"y":{"datum":0},"x2":{"datum":8},"y2":{"datum":10}}},
   {"data":{"values":[{}]},"mark":{"type":"text","text":"s56","align":"left","fontSize":19},"encoding":{"x":{"datum":0.1},"y":{"datum":8.5}}},
   {"data":{"values":[{}]},"mark":{"type":"text","text":"NSE: 0.85","align":"right","fontSize":14},"encoding":{"x":{"datum":7.9},"y":{"datum":1.2}}}
  ]},
  {"width":158,"height":133,"layer":[
   {"data":{"name":"vs96"},"mark":{"type":"circle","size":32,"opacity":1,"fill":"#b8621f","stroke":"#8f4a15","strokeWidth":0.5},"encoding":{"x":{"field":"x","type":"quantitative","scale":{"domain":[0,300],"nice":false},"axis":{"values":[0,100,200,300],"labelOverlap":false,"tickCount":20,"format":"d","title":"m³/sec"}},"y":{"field":"y","type":"quantitative","scale":{"domain":[0,200],"nice":false},"axis":{"values":[0,100,200],"labelOverlap":false,"tickCount":20,"format":"d","title":"m³/sec"}}}},
   {"data":{"name":"vs96"},"transform":[{"regression":"y","on":"x"}],"mark":{"type":"line","stroke":"#c9855a","strokeDash":[2,2],"strokeWidth":1.2},"encoding":{"x":{"field":"x","type":"quantitative"},"y":{"field":"y","type":"quantitative"}}},
   {"data":{"values":[{}]},"mark":{"type":"rule","stroke":"#333","strokeWidth":1},"encoding":{"x":{"datum":0},"y":{"datum":0},"x2":{"datum":300},"y2":{"datum":200}}},
   {"data":{"values":[{}]},"mark":{"type":"text","text":"s96","align":"left","fontSize":19},"encoding":{"x":{"datum":4},"y":{"datum":177}}},
   {"data":{"values":[{}]},"mark":{"type":"text","text":"NSE: 0.64","align":"right","fontSize":14},"encoding":{"x":{"datum":283},"y":{"datum":30}}}
  ]}
 ]}
 ]}
]
}
